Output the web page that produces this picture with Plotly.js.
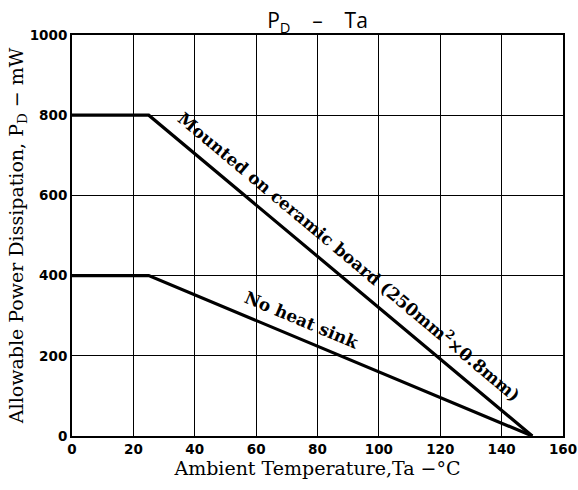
<!DOCTYPE html>
<html><head><meta charset="utf-8">
<script src="https://cdn.plot.ly/plotly-3.0.1.min.js"></script>
<style>body{margin:0;background:#fff}#c{width:578px;height:490px}</style>
</head><body><div id="c"></div>
<script>
const tempCeramic = [0, 25, 150];
const powerCeramic = [800, 800, 0];
const tempNoSink = [0, 25, 150];
const powerNoSink = [400, 400, 0];
const xTicks = [0, 20, 40, 60, 80, 100, 120, 140, 160];
const yTicks = [0, 200, 400, 600, 800, 1000];

const lineStyle = {color: '#000', width: 3.2};
const traces = [
  {x: tempCeramic, y: powerCeramic, mode: 'lines', line: lineStyle, hoverinfo: 'skip'},
  {x: tempNoSink, y: powerNoSink, mode: 'lines', line: lineStyle, hoverinfo: 'skip'}
];
const serif = {family: 'DejaVu Serif, Liberation Serif, serif', size: 19, color: '#000'};
const annFont = {family: 'DejaVu Serif, Liberation Serif, serif', size: 17, color: '#000', weight: 'bold'};
const tickFont = {family: 'DejaVu Sans, sans-serif', size: 13.5, color: '#000', weight: 'bold'};
const sp = '\u00a0\u00a0\u00a0\u00a0';
const layout = {
  width: 578, height: 490,
  margin: {l: 72, r: 15, t: 35, b: 54},
  paper_bgcolor: '#fff', plot_bgcolor: '#fff',
  showlegend: false,
  title: {text: 'P<sub>D</sub>' + sp + '–' + sp + 'Ta', xref: 'paper', x: 0.5, xanchor: 'center',
          yref: 'container', y: 0.957, yanchor: 'middle',
          font: {family: 'Open Sans, Liberation Sans, sans-serif', size: 21, color: '#000'}},
  xaxis: {range: [0, 160], tickvals: xTicks, ticktext: xTicks.map(String),
          showgrid: true, gridcolor: '#000', gridwidth: 1.2, zeroline: false,
          showline: true, linecolor: '#000', linewidth: 2, mirror: true, ticks: '',
          tickfont: tickFont,
          title: {text: 'Ambient Temperature,Ta −°C', font: serif, standoff: 4}},
  yaxis: {range: [0, 1000], tickvals: yTicks, ticktext: yTicks.map(String),
          showgrid: true, gridcolor: '#000', gridwidth: 1.2, zeroline: false,
          showline: true, linecolor: '#000', linewidth: 2, mirror: true, ticks: '',
          tickfont: tickFont,
          title: {text: 'Allowable Power Dissipation, P<sub>D</sub> − mW', font: serif, standoff: 1}},
  annotations: [
    {x: 89.5, y: 440, xref: 'x', yref: 'y', xshift: 3, yshift: 3.5,
     text: 'Mounted on ceramic board (250mm<sup>2</sup>×0.8mm)',
     showarrow: false, textangle: 39.9, font: annFont},
    {x: 74.5, y: 284, xref: 'x', yref: 'y', xshift: 1, yshift: 2.5,
     text: 'No heat sink',
     showarrow: false, textangle: 22.7, font: annFont}
  ]
};
Plotly.newPlot('c', traces, layout, {displayModeBar: false, staticPlot: true});
</script></body></html>
